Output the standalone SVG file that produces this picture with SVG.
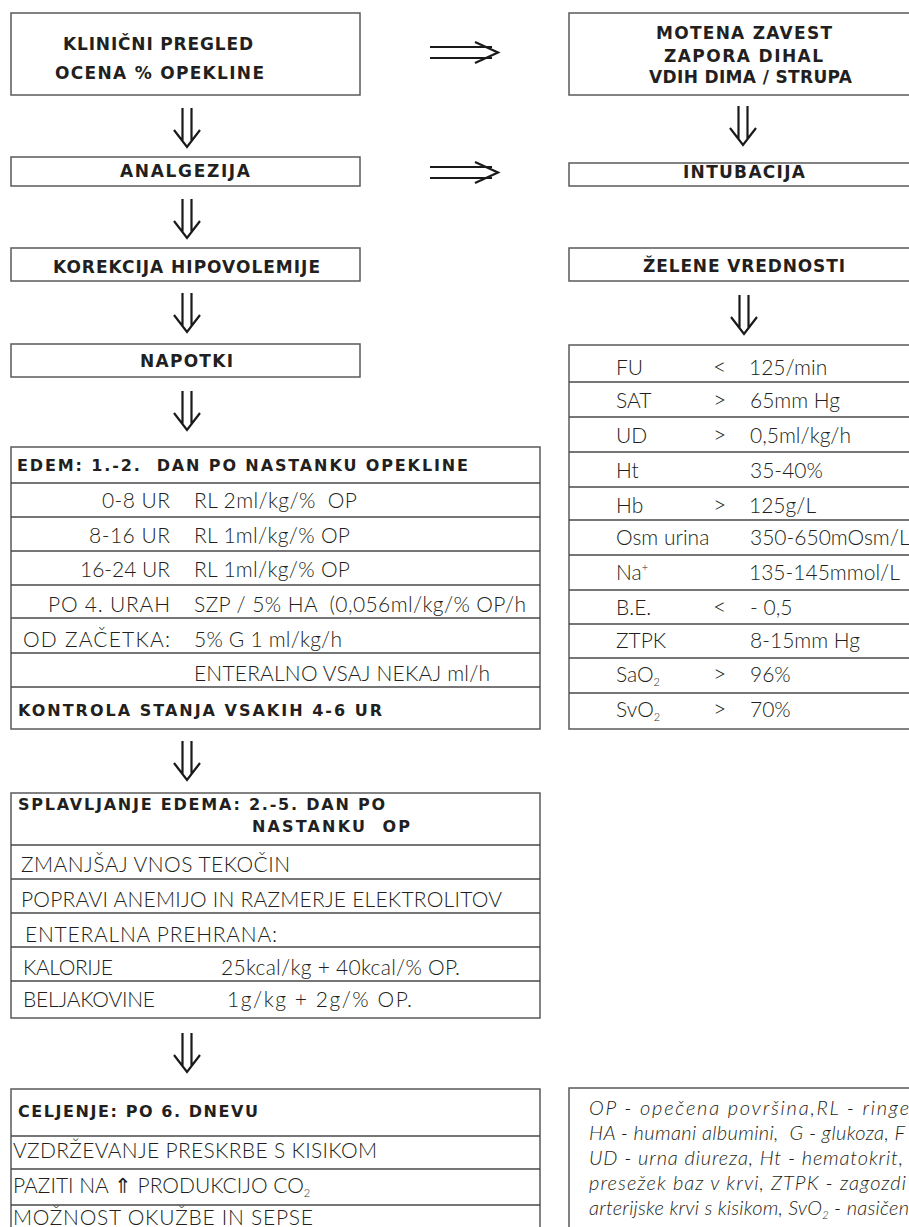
<svg xmlns="http://www.w3.org/2000/svg" width="909" height="1227" viewBox="0 0 909 1227">
<style>
.box{fill:#fff;stroke:#5a5a5a;stroke-width:1.5}
.sep{stroke:#4a4a4a;stroke-width:1.3}
.b{font-family:"DejaVu Sans","Open Sans",sans-serif;font-weight:700;font-size:17px;fill:#231f20}
.h{font-size:16px}
.l{font-family:Lato,"Open Sans","DejaVu Sans",sans-serif;font-weight:300;font-size:21px;fill:#231f20}
.c{font-family:Lato,"DejaVu Sans",sans-serif;font-weight:300;font-size:23px;fill:#231f20}
.i{font-family:Lato,"Open Sans","DejaVu Sans",sans-serif;font-weight:300;font-style:italic;font-size:20px;fill:#231f20}
.arr{fill:none;stroke:#1a1a1a;stroke-width:2.2;stroke-linejoin:miter}
</style>
<defs>
<path id="darr" class="arr" d="M-4.5,0V33M4.5,0V33M-13,22L0,39L13,22"/>
<path id="rarr" class="arr" d="M0,-5.5H62M0,5.5H62M45,-10.5L68,0L45,10.5"/>
</defs>
<rect width="909" height="1227" fill="#fff"/>

<g id="connectors">
<use href="#rarr" x="430" y="52.5"/>
<use href="#rarr" x="430" y="172.5"/>
<use href="#darr" x="187" y="108"/>
<use href="#darr" x="187" y="199"/>
<use href="#darr" x="187" y="293"/>
<use href="#darr" x="187" y="391"/>
<use href="#darr" x="187" y="741"/>
<use href="#darr" x="187" y="1033"/>
<use href="#darr" x="743" y="106"/>
<use href="#darr" x="744" y="295"/>
</g>

<g id="klinicni">
<rect class="box" x="11" y="13" width="349" height="82"/>
<text class="b" x="63" y="50" font-size="17.5" textLength="190" lengthAdjust="spacing">KLINIČNI PREGLED</text>
<text class="b" x="55" y="79" font-size="17.5" textLength="209" lengthAdjust="spacing">OCENA % OPEKLINE</text>
</g>

<g id="analgezija">
<rect class="box" x="11" y="157" width="349" height="29"/>
<text class="b" x="120" y="177" textLength="130" lengthAdjust="spacing">ANALGEZIJA</text>
</g>

<g id="korekcija">
<rect class="box" x="11" y="248" width="349" height="33"/>
<text class="b" x="53" y="273" textLength="267" lengthAdjust="spacing">KOREKCIJA HIPOVOLEMIJE</text>
</g>

<g id="napotki">
<rect class="box" x="11" y="344" width="349" height="33"/>
<text class="b" x="140" y="367" textLength="93" lengthAdjust="spacing">NAPOTKI</text>
</g>

<g id="edem">
<rect class="box" x="11" y="447" width="529" height="282"/>
<path class="sep" d="M11,483H540M11,517H540M11,551H540M11,585H540M11,618H540M11,653H540M11,687H540"/>
<text class="b h" x="17" y="471" textLength="451" lengthAdjust="spacing" xml:space="preserve">EDEM: 1.-2.  DAN PO NASTANKU OPEKLINE</text>
<text class="l" x="102" y="508" textLength="68" lengthAdjust="spacing">0-8 UR</text>
<text class="l" x="194" y="508" textLength="163" lengthAdjust="spacing" xml:space="preserve">RL 2ml/kg/%  OP</text>
<text class="l" x="89" y="543" textLength="81" lengthAdjust="spacing">8-16 UR</text>
<text class="l" x="194" y="543" textLength="156" lengthAdjust="spacing">RL 1ml/kg/% OP</text>
<text class="l" x="80" y="577" textLength="90" lengthAdjust="spacing">16-24 UR</text>
<text class="l" x="194" y="577" textLength="156" lengthAdjust="spacing">RL 1ml/kg/% OP</text>
<text class="l" x="48" y="612" textLength="122" lengthAdjust="spacing">PO 4. URAH</text>
<text class="l" x="194" y="612" textLength="332" lengthAdjust="spacing" xml:space="preserve">SZP / 5% HA  (0,056ml/kg/% OP/h</text>
<text class="l" x="23" y="647" textLength="147" lengthAdjust="spacing">OD ZAČETKA:</text>
<text class="l" x="194" y="647" textLength="148" lengthAdjust="spacing">5% G 1 ml/kg/h</text>
<text class="l" x="194" y="681" textLength="296" lengthAdjust="spacing">ENTERALNO VSAJ NEKAJ ml/h</text>
<text class="b h" x="18" y="716" textLength="364" lengthAdjust="spacing">KONTROLA STANJA VSAKIH 4-6 UR</text>
</g>

<g id="splavljanje">
<rect class="box" x="11" y="793" width="529" height="225"/>
<path class="sep" d="M11,845H540M11,879H540M11,913H540M11,947H540M11,981H540"/>
<text class="b h" x="18" y="810" textLength="367" lengthAdjust="spacing">SPLAVLJANJE EDEMA: 2.-5. DAN PO</text>
<text class="b h" x="252" y="832" textLength="158" lengthAdjust="spacing" xml:space="preserve">NASTANKU  OP</text>
<text class="l" x="21" y="872" textLength="269" lengthAdjust="spacing">ZMANJŠAJ VNOS TEKOČIN</text>
<text class="l" x="21" y="907" textLength="481" lengthAdjust="spacing">POPRAVI ANEMIJO IN RAZMERJE ELEKTROLITOV</text>
<text class="l" x="25" y="942" textLength="252" lengthAdjust="spacing">ENTERALNA PREHRANA:</text>
<text class="l" x="23" y="975" textLength="90" lengthAdjust="spacing">KALORIJE</text>
<text class="l" x="221" y="975" textLength="239" lengthAdjust="spacing">25kcal/kg + 40kcal/% OP.</text>
<text class="l" x="23" y="1007" textLength="132" lengthAdjust="spacing">BELJAKOVINE</text>
<text class="l" x="227" y="1007" textLength="185" lengthAdjust="spacing">1g/kg + 2g/% OP.</text>
</g>

<g id="celjenje">
<rect class="box" x="11" y="1089" width="529" height="160"/>
<path class="sep" d="M11,1136H540M11,1169H540M11,1205H540"/>
<text class="b h" x="18" y="1117" textLength="240" lengthAdjust="spacing">CELJENJE: PO 6. DNEVU</text>
<text class="l" x="13" y="1158" textLength="364" lengthAdjust="spacing">VZDRŽEVANJE PRESKRBE S KISIKOM</text>
<text class="l" x="13" y="1193">PAZITI NA ⇑ PRODUKCIJO CO<tspan font-size="11" dy="4">2</tspan></text>
<text class="l" x="13" y="1225" textLength="300" lengthAdjust="spacing">MOŽNOST OKUŽBE IN SEPSE</text>
</g>

<g id="motena">
<rect class="box" x="569" y="13" width="360" height="82"/>
<text class="b" x="656" y="39" textLength="176" lengthAdjust="spacing">MOTENA ZAVEST</text>
<text class="b" x="664" y="62" textLength="159" lengthAdjust="spacing">ZAPORA DIHAL</text>
<text class="b" x="649" y="83" textLength="203" lengthAdjust="spacing">VDIH DIMA / STRUPA</text>
</g>

<g id="intubacija">
<rect class="box" x="569" y="163" width="360" height="23"/>
<text class="b" x="683" y="178" textLength="122" lengthAdjust="spacing">INTUBACIJA</text>
</g>

<g id="zelene">
<rect class="box" x="569" y="248" width="360" height="33"/>
<text class="b" x="643" y="272" textLength="202" lengthAdjust="spacing">ŽELENE VREDNOSTI</text>
</g>

<g id="vrednosti">
<rect class="box" x="569" y="345" width="360" height="384"/>
<path class="sep" d="M569,382H909M569,417H909M569,452H909M569,487H909M569,520H909M569,555H909M569,590H909M569,624H909M569,658H909M569,693H909"/>
<text class="l" x="616" y="375">FU</text><text class="c" x="713" y="375">&lt;</text><text class="l" x="749" y="375">125/min</text>
<text class="l" x="616" y="408">SAT</text><text class="c" x="713" y="408">&gt;</text><text class="l" x="750" y="408">65mm Hg</text>
<text class="l" x="616" y="443">UD</text><text class="c" x="713" y="443">&gt;</text><text class="l" x="750" y="443">0,5ml/kg/h</text>
<text class="l" x="616" y="478">Ht</text><text class="l" x="750" y="478">35-40%</text>
<text class="l" x="616" y="513">Hb</text><text class="c" x="713" y="513">&gt;</text><text class="l" x="749" y="513">125g/L</text>
<text class="l" x="616" y="545">Osm urina</text><text class="l" x="750" y="545">350-650mOsm/L</text>
<text class="l" x="616" y="580">Na<tspan font-size="11" dy="-9">+</tspan></text><text class="l" x="749" y="580">135-145mmol/L</text>
<text class="l" x="616" y="615">B.E.</text><text class="c" x="713" y="615">&lt;</text><text class="l" x="750" y="615">- 0,5</text>
<text class="l" x="616" y="648">ZTPK</text><text class="l" x="750" y="648">8-15mm Hg</text>
<text class="l" x="616" y="682">SaO<tspan font-size="11" dy="4">2</tspan></text><text class="c" x="713" y="682">&gt;</text><text class="l" x="750" y="682">96%</text>
<text class="l" x="616" y="717">SvO<tspan font-size="11" dy="4">2</tspan></text><text class="c" x="713" y="717">&gt;</text><text class="l" x="750" y="717">70%</text>
</g>

<g id="legenda">
<rect class="box" x="569" y="1088" width="360" height="160"/>
<text class="i" x="589" y="1115" textLength="320" lengthAdjust="spacing">OP - opečena površina,RL - ringe</text>
<text class="i" x="589" y="1140" textLength="316" lengthAdjust="spacing" xml:space="preserve">HA - humani albumini,  G - glukoza, F</text>
<text class="i" x="589" y="1165" textLength="314" lengthAdjust="spacing">UD - urna diureza, Ht - hematokrit,</text>
<text class="i" x="589" y="1190" textLength="317" lengthAdjust="spacing">presežek baz v krvi, ZTPK - zagozdi</text>
<text class="i" x="589" y="1215" textLength="320" lengthAdjust="spacing">arterijske krvi s kisikom, SvO<tspan font-size="11" dy="4">2</tspan><tspan dy="-4"> - nasičen</tspan></text>
</g>
</svg>
